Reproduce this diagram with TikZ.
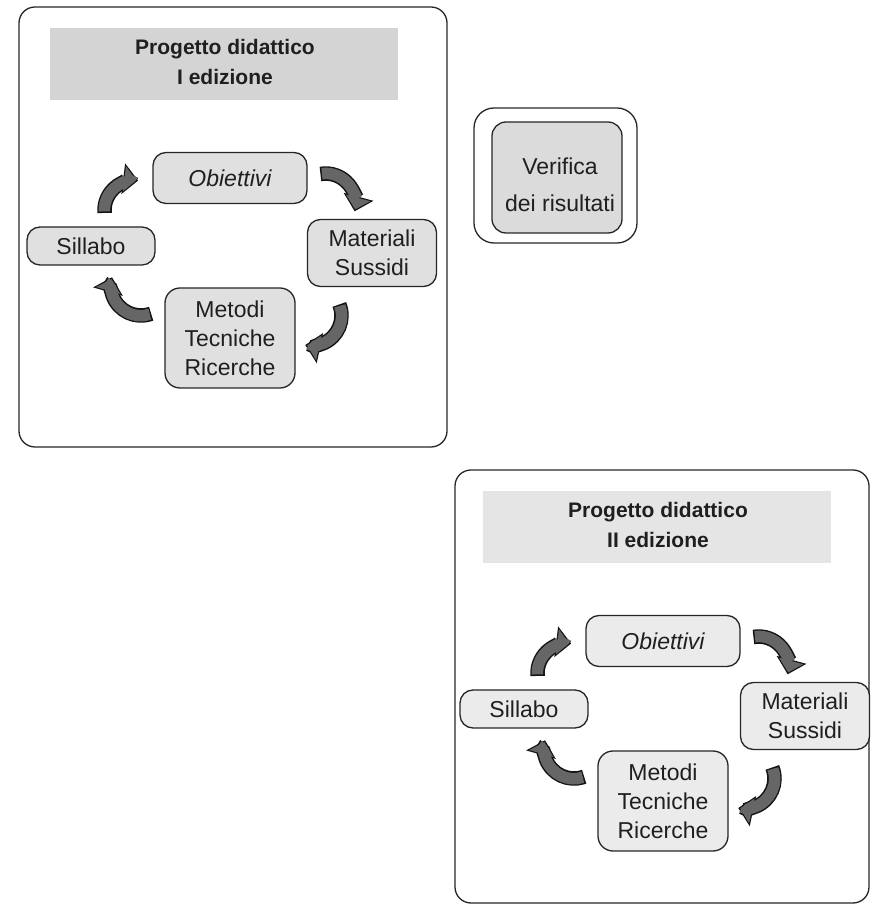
\documentclass[tikz,border=0pt]{standalone}
\usepackage{fontspec}
\setmainfont{Liberation Sans}
\usetikzlibrary{arrows.meta}

\colorlet{cellfill}{black!12}
\colorlet{bandfill}{black!17}

% curved band arrow of the cycle (radius 30): dark outline pass, then lighter core pass
\newcommand\cycarrow[3]{%
  \draw[cycout] (#1) arc[start angle=#2, end angle=#3, radius=30];
  \draw[cycin, shorten <=1.5pt, shorten >=2pt] (#1) arc[start angle=#2, end angle=#3, radius=30];
}

\tikzset{
  every node/.style={text=black!88},
  cell/.style={draw=black!85, line width=1.3pt, rounded corners=13pt, fill=cellfill,
    align=center, inner sep=0pt, font=\fontsize{23}{29}\selectfont},
  band/.style={fill=bandfill, minimum width=348pt, minimum height=72pt, inner sep=0pt},
  heading/.style={align=center, font=\bfseries\fontsize{21}{30}\selectfont},
  frame/.style={draw=black!85, line width=1.3pt, rounded corners=16pt},
  cycout/.style={draw=black!92, line width=14.5pt, -{Triangle[width=30pt,length=15pt]}},
  cycin/.style={draw=black!60, line width=11.5pt, -{Triangle[width=24.5pt,length=11.8pt]}},
  panel/.pic={
    \node[band] (-band) at (224,841) {};
    \node[heading] (-title) at (225,843) {Progetto didattico\\#1 edizione};
    \node[cell, minimum width=154pt, minimum height=51pt] (-obj) at (230,727) {\itshape Obiettivi};
    \node[cell, minimum width=128pt, minimum height=38pt] (-sil) at (91,659) {Sillabo};
    \node[cell, minimum width=129pt, minimum height=67pt] (-mat) at (372,652) {Materiali\\Sussidi};
    \node[cell, minimum width=130pt, minimum height=100pt, rounded corners=15pt] (-met) at (230,567) {Metodi\\Tecniche\\Ricerche};
    % Sillabo -> Obiettivi -> Materiali -> Metodi -> Sillabo
    \cycarrow{[shift={(13.6,13.4)}]-sil.north}{185}{83}
    \cycarrow{[shift={(12.8,4)}]-obj.east}{100}{-15}
    \cycarrow{[shift={(-32.7,-17.3)}]-mat.south}{22}{-102}
    \cycarrow{[shift={(-13.2,24.3)}]-met.west}{290}{164}
  }
}

\begin{document}
\begin{tikzpicture}[x=1pt,y=1pt]
  \useasboundingbox (0,0) rectangle (871,905);

  % first edition
  \draw[frame] (19,458) rectangle (447,898);
  \pic (A) at (0,0) {panel=I};

  % verification box
  \node[draw=black!85, line width=1.3pt, rounded corners=20pt,
        minimum width=163pt, minimum height=135pt] (verframe) at (555.5,729.5) {};
  \node[cell, fill=black!14, rounded corners=14pt, minimum width=130pt, minimum height=111pt] (ver) at (557,727.5) {};
  \node[align=center, inner sep=0pt, font=\fontsize{23}{37}\selectfont] (vertext) at (560,720) {Verifica\\dei risultati};

  % second edition
  \colorlet{cellfill}{black!8}
  \colorlet{bandfill}{black!10}
  \draw[frame] (455,2) rectangle (869,435);
  \pic (B) at (433,-463) {panel=II};
\end{tikzpicture}
\end{document}
